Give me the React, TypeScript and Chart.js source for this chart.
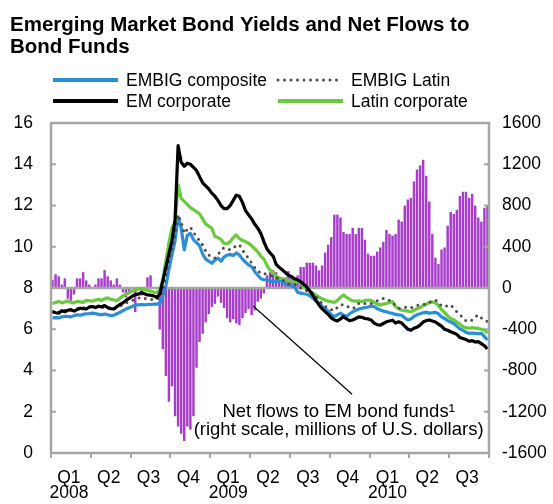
import { useEffect, useRef } from 'react';
import { Chart, registerables } from 'chart.js';

Chart.register(...registerables);

// ---------- data ----------
const quarterNames = ['Q1', 'Q2', 'Q3', 'Q4', 'Q1', 'Q2', 'Q3', 'Q4', 'Q1', 'Q2', 'Q3'];
const yearNames = ['2008', '', '', '', '2009', '', '', '', '2010', '', ''];

const leftTicks = { min: 0, max: 16, step: 2 };
const rightTicks = { min: -1600, max: 1600, step: 400 };

// weekly net flows to EM bond funds (millions of U.S. dollars), Jan 2008 - Sep 2010
const netFlows = [
  75, 130, 110, 30, 90, -100, -120, -60, 90, 90, 150, 70, 30,
  0, 30, 90, 90, 170, 110, 70, 30, 90, 30, -40, -90, -50,
  0, -230, 0, -70, 0, 100, 120, 0, 0, -400, -590, -850, -1100,
  -950, -1240, -1340, -1410, -1480, -1340, -1370, -1240, -770, -520, -440, -330, -250,
  -180, -150, -80, -140, -190, -290, -330, -300, -340, -355, -290, -240, -200,
  -260, -215, -130, -100, -50, 120, 150, 170, 150, 80, 60, 100, 160,
  120, 100, 120, 200, 200, 242, 242, 242, 215, 168, 215, 340, 417,
  490, 708, 708, 680, 540, 520, 520, 580, 520, 580, 580, 465, 330,
  310, 310, 350, 390, 445, 560, 520, 505, 520, 660, 640, 795, 855,
  870, 1030, 1145, 1185, 1240, 1085, 835, 520, 290, 230, 370, 390, 600,
  735, 715, 755, 890, 930, 930, 870, 910, 795, 680, 640, 775, 795,
];

const embigComposite = [
  6.55, 6.56, 6.55, 6.60, 6.62, 6.62, 6.60, 6.66, 6.70, 6.68, 6.72, 6.75, 6.76,
  6.78, 6.76, 6.72, 6.70, 6.74, 6.70, 6.66, 6.68, 6.75, 6.82, 6.90, 6.98, 7.04,
  7.10, 7.18, 7.18, 7.20, 7.18, 7.20, 7.20, 7.22, 7.22, 7.25, 7.60, 8.10, 8.90,
  9.60, 10.30, 11.45, 10.90, 9.85, 10.55, 10.65, 10.35, 10.20, 10.05, 9.65, 9.40, 9.30,
  9.20, 9.35, 9.45, 9.30, 9.50, 9.60, 9.62, 9.58, 9.70, 9.60, 9.40, 9.25, 9.12,
  9.03, 8.80, 8.62, 8.45, 8.40, 8.40, 8.35, 8.30, 8.32, 8.38, 8.30, 8.20, 8.15,
  8.10, 8.06, 7.80, 7.75, 7.72, 7.70, 7.62, 7.50, 7.38, 7.26, 7.12, 7.00, 6.88,
  6.70, 6.62, 6.70, 6.78, 6.68, 6.62, 6.75, 6.85, 6.92, 6.98, 7.02, 7.05, 7.08,
  7.12, 7.10, 7.00, 6.93, 6.88, 6.85, 6.80, 6.77, 6.72, 6.70, 6.68, 6.55, 6.45,
  6.50, 6.62, 6.70, 6.75, 6.80, 6.82, 6.78, 6.80, 6.82, 6.75, 6.60, 6.52, 6.42,
  6.35, 6.28, 6.15, 6.02, 5.95, 5.85, 5.80, 5.82, 5.80, 5.78, 5.80, 5.65, 5.48,
];

const embigLatin = [
  6.85, 6.88, 6.82, 6.90, 6.92, 6.95, 6.92, 6.96, 7.00, 7.02, 7.05, 7.02, 7.08,
  7.10, 7.08, 7.06, 7.05, 7.10, 7.02, 6.98, 7.00, 7.05, 7.12, 7.20, 7.28, 7.35,
  7.40, 7.45, 7.50, 7.55, 7.50, 7.48, 7.45, 7.42, 7.45, 7.55, 7.90, 8.60, 9.35,
  9.90, 10.60, 11.55, 11.20, 10.65, 10.85, 10.95, 10.70, 10.50, 10.30, 10.10, 9.80, 9.60,
  9.50, 9.45, 9.60, 9.85, 9.95, 9.90, 9.85, 9.95, 10.05, 10.10, 9.85, 9.60, 9.45,
  9.20, 9.00, 8.85, 8.70, 8.70, 8.68, 8.62, 8.55, 8.50, 8.45, 8.40, 8.30, 8.20,
  8.15, 8.18, 8.10, 8.00, 7.90, 7.88, 7.82, 7.75, 7.60, 7.40, 7.26, 7.12, 7.00,
  6.95, 6.90, 7.05, 7.18, 7.20, 7.12, 7.05, 7.00, 7.10, 7.26, 7.30, 7.25, 7.28,
  7.25, 7.30, 7.38, 7.42, 7.50, 7.48, 7.40, 7.28, 7.15, 7.02, 7.00, 7.05, 7.10,
  7.05, 7.08, 7.15, 7.18, 7.20, 7.22, 7.30, 7.38, 7.42, 7.30, 7.12, 7.10, 7.15,
  7.18, 7.00, 6.85, 6.72, 6.55, 6.40, 6.38, 6.45, 6.60, 6.70, 6.55, 6.45, 6.37,
];

const emCorporate = [
  6.85, 6.80, 6.78, 6.90, 6.85, 6.92, 6.95, 6.88, 6.95, 7.02, 7.00, 6.98, 7.08,
  7.10, 7.05, 7.12, 7.08, 7.15, 7.05, 7.00, 6.98, 7.10, 7.20, 7.28, 7.40, 7.50,
  7.60, 7.68, 7.70, 7.78, 7.72, 7.66, 7.65, 7.62, 7.55, 7.70, 8.35, 9.00, 9.65,
  10.30, 11.30, 14.90, 14.10, 13.90, 14.05, 14.00, 13.85, 13.70, 13.40, 13.10, 12.95, 12.80,
  12.60, 12.45, 12.25, 12.00, 11.85, 11.85, 12.00, 12.25, 12.50, 12.45, 12.15, 11.75, 11.55,
  11.35, 11.10, 10.90, 10.65, 10.25, 9.90, 9.70, 9.55, 9.15, 9.00, 8.88, 8.75, 8.62,
  8.55, 8.45, 8.40, 8.30, 8.18, 8.05, 7.85, 7.65, 7.40, 7.18, 7.00, 6.85, 6.72,
  6.55, 6.45, 6.40, 6.50, 6.62, 6.50, 6.42, 6.45, 6.52, 6.60, 6.58, 6.52, 6.50,
  6.45, 6.30, 6.22, 6.20, 6.28, 6.36, 6.40, 6.44, 6.30, 6.36, 6.30, 6.15, 6.00,
  5.95, 6.05, 6.10, 6.20, 6.35, 6.42, 6.45, 6.40, 6.35, 6.25, 6.15, 6.00, 5.95,
  5.88, 5.82, 5.75, 5.60, 5.55, 5.50, 5.42, 5.45, 5.38, 5.40, 5.30, 5.20, 5.05,
];

const latinCorporate = [
  7.25, 7.30, 7.35, 7.28, 7.32, 7.38, 7.30, 7.28, 7.35, 7.33, 7.30, 7.40, 7.38,
  7.36, 7.42, 7.45, 7.40, 7.48, 7.52, 7.45, 7.42, 7.40, 7.50, 7.62, 7.70, 7.78,
  7.85, 7.90, 7.95, 7.98, 7.92, 7.88, 7.85, 7.80, 7.78, 7.90, 8.40, 9.30, 10.20,
  10.90, 11.20, 13.00, 12.35, 12.20, 12.05, 11.90, 11.80, 11.70, 11.60, 11.35, 11.10, 11.00,
  10.90, 10.50, 10.45, 10.35, 10.17, 10.15, 10.25, 10.45, 10.57, 10.40, 10.30, 10.25, 10.17,
  10.05, 9.90, 9.75, 9.55, 9.40, 9.10, 8.87, 8.75, 8.55, 8.50, 8.45, 8.40, 8.35,
  8.35, 8.32, 8.30, 8.25, 8.10, 7.95, 7.85, 7.75, 7.66, 7.55, 7.48, 7.42, 7.36,
  7.34, 7.30, 7.40, 7.55, 7.66, 7.55, 7.45, 7.38, 7.36, 7.38, 7.34, 7.40, 7.42,
  7.40, 7.30, 7.22, 7.18, 7.22, 7.25, 7.30, 7.34, 7.10, 7.00, 6.92, 6.90, 6.88,
  6.85, 6.92, 7.00, 7.05, 7.15, 7.20, 7.30, 7.32, 7.28, 7.15, 6.95, 6.80, 6.65,
  6.52, 6.45, 6.35, 6.25, 6.12, 6.08, 6.05, 6.08, 6.05, 6.04, 6.00, 5.95, 5.82,
];

const titleLines = ['Emerging Market Bond Yields and Net Flows to', 'Bond Funds'];
const noteLines = ['Net flows to EM bond funds\u00B9', '(right scale, millions of U.S. dollars)'];
// annotation anchors in data units: [week index, flow value]
const notePointerFrom = [65.5, -175];
const notePointerTo = [97.8, -1030];
const noteTextAt = [93.4, -1250];

// ---------- style ----------
const FONT = "'Liberation Sans', Arial, Helvetica, sans-serif";
const GRAY = '#a6a6a6';
const C_BLUE = '#2a8fd8';
const C_GREEN = '#66cc3a';
const C_BLACK = '#000000';
const C_DOT = '#4d4d4d';
const C_BAR = '#a83ccb';

const firstWeek = Date.UTC(2008, 0, 4);
const weekLabels = netFlows.map((_, i) =>
  new Date(firstWeek + i * 7 * 86400000).toISOString().slice(0, 10)
);
const quarterLabels = quarterNames.map((q, i) => (yearNames[i] ? [q, yearNames[i]] : q));

const legendLayout = [
  { label: 'EMBIG composite', col: 0, row: 0 },
  { label: 'EMBIG Latin', col: 1, row: 0 },
  { label: 'EM corporate', col: 0, row: 1 },
  { label: 'Latin corporate', col: 1, row: 1 },
];

const decor = {
  id: 'decor',
  afterDatasetDraw(chart: any, args: any) {
    if (args.meta.type !== 'bar') return;
    const { ctx, chartArea } = chart;
    const y0 = chart.scales.y2.getPixelForValue(0);
    ctx.save();
    ctx.strokeStyle = GRAY;
    ctx.lineWidth = 2.5;
    ctx.beginPath();
    ctx.moveTo(chartArea.left, y0);
    ctx.lineTo(chartArea.right, y0);
    ctx.stroke();
    ctx.restore();
  },
  afterDatasetsDraw(chart: any) {
    const { ctx, chartArea, scales } = chart;
    const { left, right, top, bottom } = chartArea;
    ctx.save();
    ctx.strokeStyle = GRAY;
    ctx.lineWidth = 2.5;
    ctx.strokeRect(left, top, right - left, bottom - top);
    ctx.lineWidth = 2;
    scales.y.ticks.forEach((t: any) => {
      const py = scales.y.getPixelForValue(t.value);
      ctx.beginPath();
      ctx.moveTo(left, py);
      ctx.lineTo(left + 5, py);
      ctx.stroke();
    });
    scales.y2.ticks.forEach((t: any) => {
      const py = scales.y2.getPixelForValue(t.value);
      ctx.beginPath();
      ctx.moveTo(right - 5, py);
      ctx.lineTo(right, py);
      ctx.stroke();
    });
    // annotation pointer
    ctx.strokeStyle = '#000';
    ctx.lineWidth = 1.2;
    ctx.beginPath();
    ctx.moveTo(scales.x.getPixelForValue(notePointerFrom[0]), scales.y2.getPixelForValue(notePointerFrom[1]));
    ctx.lineTo(scales.x.getPixelForValue(notePointerTo[0]), scales.y2.getPixelForValue(notePointerTo[1]));
    ctx.stroke();
    ctx.restore();
  },
  afterDraw(chart: any) {
    const { ctx, scales } = chart;
    ctx.save();
    // title
    ctx.fillStyle = '#000';
    ctx.textAlign = 'left';
    ctx.textBaseline = 'alphabetic';
    ctx.font = `bold 20.5px ${FONT}`;
    ctx.fillText(titleLines[0], 10, 31);
    ctx.fillText(titleLines[1], 10, 53);
    // legend
    const colX = [53, 278];
    const rowY = [80, 101];
    ctx.font = `17.5px ${FONT}`;
    ctx.textBaseline = 'middle';
    legendLayout.forEach((item) => {
      const ds = chart.data.datasets.find((d: any) => d.label === item.label);
      if (!ds) return;
      const x = colX[item.col];
      const y = rowY[item.row];
      ctx.save();
      ctx.strokeStyle = ds.borderColor;
      ctx.lineWidth = ds.borderDash ? 3 : 4;
      ctx.lineCap = ds.borderDash ? 'round' : 'butt';
      ctx.setLineDash(ds.borderDash || []);
      ctx.beginPath();
      ctx.moveTo(x, y);
      ctx.lineTo(x + 65, y);
      ctx.stroke();
      ctx.restore();
      ctx.fillText(item.label, x + 73, y + 1);
    });
    // note
    ctx.font = `18.5px ${FONT}`;
    ctx.textAlign = 'center';
    ctx.textBaseline = 'alphabetic';
    const nx = scales.x.getPixelForValue(noteTextAt[0]);
    const ny = scales.y2.getPixelForValue(noteTextAt[1]);
    ctx.fillText(noteLines[0], nx, ny);
    ctx.fillText(noteLines[1], nx, ny + 18.5);
    ctx.restore();
  },
};

export default function App() {
  const ref = useRef<HTMLCanvasElement>(null);
  useEffect(() => {
    const lineDs = (label: string, data: number[], color: string, order: number, extra: any = {}) => ({
      type: 'line' as const,
      label,
      data,
      borderColor: color,
      backgroundColor: color,
      borderWidth: 3.2,
      pointRadius: 0,
      tension: 0,
      borderJoinStyle: 'round' as const,
      xAxisID: 'x',
      yAxisID: 'y',
      order,
      ...extra,
    });
    const tickFont = { family: FONT, size: 17.5 };
    const chart = new Chart(ref.current as HTMLCanvasElement, {
      type: 'bar',
      data: {
        labels: weekLabels,
        datasets: [
          lineDs('EM corporate', emCorporate, C_BLACK, 1),
          lineDs('EMBIG Latin', embigLatin, C_DOT, 2, {
            borderDash: [0, 6.5],
            borderCapStyle: 'round',
            borderWidth: 3,
          }),
          lineDs('Latin corporate', latinCorporate, C_GREEN, 3),
          lineDs('EMBIG composite', embigComposite, C_BLUE, 4),
          {
            type: 'bar' as const,
            label: 'Net flows to EM bond funds',
            data: netFlows,
            backgroundColor: C_BAR,
            barThickness: 1.8,
            xAxisID: 'x',
            yAxisID: 'y2',
            order: 10,
          },
        ] as any,
      },
      options: {
        responsive: false,
        animation: false,
        devicePixelRatio: 1,
        layout: { padding: { top: 123, left: 0, right: 0, bottom: 0 } },
        plugins: {
          legend: { display: false },
          title: { display: false },
          tooltip: { enabled: false },
        },
        scales: {
          x: { type: 'category', display: false, offset: true },
          xq: {
            type: 'category',
            axis: 'x',
            position: 'bottom',
            labels: quarterLabels as any,
            offset: true,
            grid: {
              display: true,
              offset: true,
              drawOnChartArea: false,
              drawTicks: true,
              tickLength: 5,
              color: GRAY,
              lineWidth: 2,
            },
            border: { display: false },
            ticks: {
              autoSkip: false,
              maxRotation: 0,
              color: '#000',
              padding: 12.5,
              labelOffset: -2,
              font: { ...tickFont, lineHeight: '15px' },
            },
            afterFit: (s: any) => {
              s.height = 51;
            },
          } as any,
          y: {
            position: 'left',
            min: leftTicks.min,
            max: leftTicks.max,
            ticks: { stepSize: leftTicks.step, color: '#000', padding: 18, font: tickFont },
            grid: { display: false, drawTicks: false },
            border: { display: false },
            afterFit: (s: any) => {
              s.width = 51;
            },
          },
          y2: {
            position: 'right',
            min: rightTicks.min,
            max: rightTicks.max,
            ticks: {
              stepSize: rightTicks.step,
              color: '#000',
              padding: 13,
              font: tickFont,
              callback: (v: any) => String(v),
            },
            grid: { display: false, drawTicks: false },
            border: { display: false },
            afterFit: (s: any) => {
              s.width = 64;
            },
          },
        },
      },
      plugins: [decor],
    });
    return () => chart.destroy();
  }, []);
  return (
    <div style={{ position: 'absolute', left: 0, top: 0, width: 553, height: 504, background: '#fff' }}>
      <canvas ref={ref} width={553} height={504} style={{ display: 'block', width: 553, height: 504 }} />
    </div>
  );
}
